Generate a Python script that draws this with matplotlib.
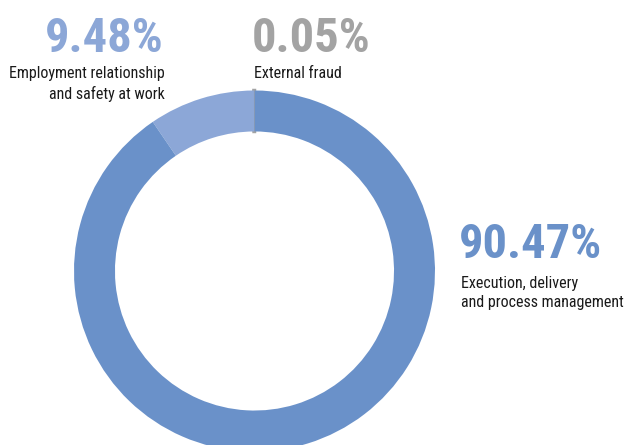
import matplotlib
matplotlib.use('Agg')
import matplotlib.pyplot as plt
from matplotlib import font_manager

# 数据
labels = ['External fraud', 'Employment relationship\nand safety at work',
          'Execution, delivery\nand process management']
shares = [0.05, 9.48, 90.47]
pct_text = ['0.05%', '9.48%', '90.47%']
colors = ['#a3a3a3', '#8ca7d7', '#6a91c9']
pct_colors = ['#a3a3a3', '#8ca7d7', '#6a91c9']

names = {f.name for f in font_manager.fontManager.ttflist}
fam = 'Roboto'
for cand in ['Roboto Condensed', 'Liberation Sans Narrow', 'Open Sans Condensed']:
    if cand in names:
        fam = cand
        break
plt.rcParams['font.family'] = [fam, 'DejaVu Sans']

W, H = 629, 445
fig = plt.figure(figsize=(W / 100, H / 100), dpi=100)

# 圆环位置（像素）
cx, cy, r = 254.5, 271, 180.5
ax = fig.add_axes([(cx - r) / W, (H - cy - r) / H, 2 * r / W, 2 * r / H])
wedges, _ = ax.pie(shares, colors=colors, startangle=90, counterclock=True,
                   radius=1, wedgeprops=dict(width=0.227, linewidth=0))
wedges[0].set_edgecolor(colors[0])
wedges[0].set_linewidth(2.5)
for w in wedges:
    w.set_clip_on(False)
ax.set_xlim(-1, 1)
ax.set_ylim(-1, 1)
ax.axis('off')


def px(x, y):
    return x / W, 1 - y / H


# 文字标注
spots = [  # (x, pct baseline y, label top y, ha)
    (252, 52, 66, 'left'),
    (164, 52, 66, 'right'),
    (459, 258, 276, 'left'),
]
for (x, yb, yl, ha), p, lab, c in zip(spots, pct_text, labels, pct_colors):
    fig.text(*px(x, yb), p, ha=ha, va='baseline', fontsize=35,
             fontweight='bold', color=c)
    fig.text(*px(x + (2 if ha == 'left' else 1), yl), lab, ha=ha, va='top',
             fontsize=11.5, color='#1a1a1a', linespacing=1.35,
             multialignment=ha)

fig.savefig('out.png', dpi=100)
